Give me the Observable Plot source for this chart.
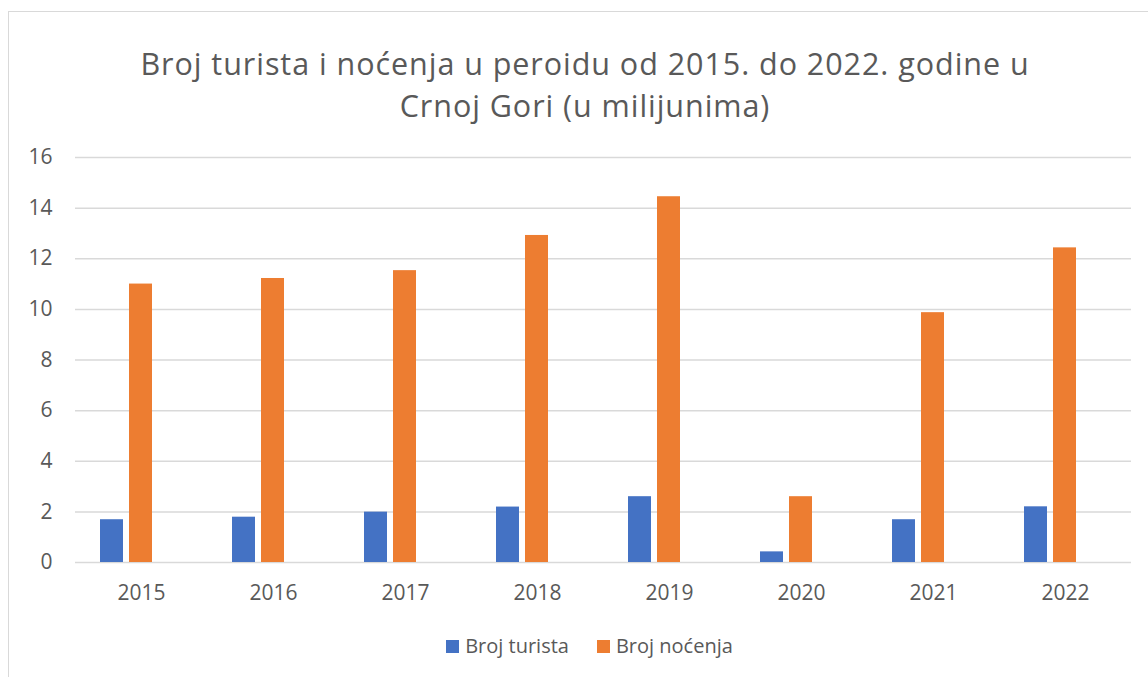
<!DOCTYPE html>
<html>
<head>
<meta charset="utf-8">
<script src="https://cdn.jsdelivr.net/npm/d3@7"></script>
<script src="https://cdn.jsdelivr.net/npm/@observablehq/plot@0.6"></script>
<style>
  html, body { margin: 0; padding: 0; background: #fff; overflow: hidden; }
  body { width: 1148px; height: 677px; position: relative; font-family: "Open Sans", sans-serif; color: #595959; }
  #frame { position: absolute; left: 8px; top: 11px; width: 1160px; height: 700px; border: 1px solid #d9d9d9; box-sizing: border-box; }
  .title { position: absolute; left: 0; width: 1170px; height: 42px; text-align: center; font-size: 30.5px; letter-spacing: 0.95px; line-height: 42px; color: #595959; white-space: nowrap; }
  #t1 { top: 42px; }
  #t2 { top: 84px; }
  #chart { position: absolute; left: 0; top: 130px; }
  #legend { position: absolute; left: 0; top: 633px; width: 1179px; display: flex; justify-content: center; gap: 28px; font-size: 20px; line-height: 26px; }
  .item { display: flex; align-items: center; gap: 6px; }
  .sw { width: 13px; height: 13px; display: inline-block; }
</style>
</head>
<body>
<div id="frame"></div>
<div class="title" id="t1">Broj turista i noćenja u peroidu od 2015. do 2022. godine u</div>
<div class="title" id="t2">Crnoj Gori (u milijunima)</div>
<div id="chart"></div>
<div id="legend"></div>
<script>
const years = ["2015", "2016", "2017", "2018", "2019", "2020", "2021", "2022"];
const brojTurista = [1.69, 1.79, 1.99, 2.19, 2.60, 0.42, 1.69, 2.20];
const brojNocenja = [11.0, 11.22, 11.53, 12.92, 14.45, 2.60, 9.87, 12.43];
const seriesNames = ["Broj turista", "Broj noćenja"];
const seriesColors = ["#4472c4", "#ed7d31"];
const yTicks = [0, 2, 4, 6, 8, 10, 12, 14, 16];

const rows = years.flatMap((y, i) => [
  {year: y, series: seriesNames[0], value: brojTurista[i]},
  {year: y, series: seriesNames[1], value: brojNocenja[i]}
]);

const chart = Plot.plot({
  width: 1148,
  height: 485,
  marginLeft: 73,
  marginRight: 16,
  marginTop: 27,
  marginBottom: 53,
  style: {fontFamily: "'Open Sans', sans-serif", fontSize: "21px", color: "#595959", background: "transparent", overflow: "visible"},
  fx: {domain: years, padding: 0, label: null, tickSize: 0, tickPadding: 23, axis: "bottom"},
  x: {domain: [...seriesNames, "_empty"], paddingInner: 0.2, paddingOuter: 0.85, axis: null},
  y: {domain: [0, 16], ticks: yTicks, label: null, tickSize: 0, tickPadding: 23},
  color: {domain: seriesNames, range: seriesColors},
  marks: [
    Plot.ruleY(yTicks, {stroke: "#d9d9d9", strokeWidth: 1.5}),
    Plot.barY(rows, {fx: "year", x: "series", y: "value", fill: "series"})
  ]
});
document.getElementById("chart").appendChild(chart);

const legend = document.getElementById("legend");
seriesNames.forEach((name, i) => {
  const item = document.createElement("div");
  item.className = "item";
  const sw = document.createElement("span");
  sw.className = "sw";
  sw.style.background = seriesColors[i];
  const label = document.createElement("span");
  label.textContent = name;
  item.appendChild(sw);
  item.appendChild(label);
  legend.appendChild(item);
});
</script>
</body>
</html>
